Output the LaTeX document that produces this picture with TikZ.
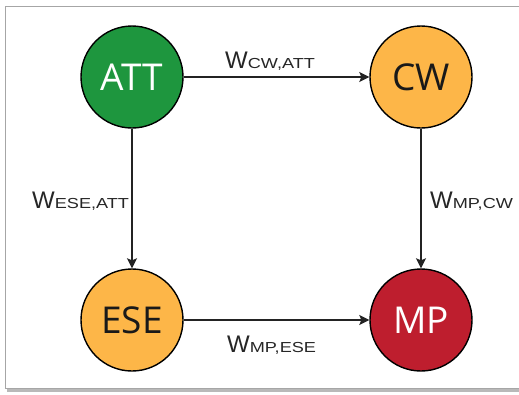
\documentclass[tikz,border=0pt]{standalone}
\usepackage{fontspec}
\setmainfont{Open Sans}
\newfontfamily\lblfont{Liberation Sans}
\usetikzlibrary{arrows.meta}
\definecolor{attgreen}{RGB}{30,150,62}
\definecolor{nodeorange}{RGB}{253,182,72}
\definecolor{mpred}{RGB}{190,30,46}
\definecolor{linegray}{RGB}{35,35,35}
\tikzset{
  statenode/.style={circle, draw=black, line width=1.4pt, minimum size=102pt, inner sep=0pt, font=\fontsize{37}{37}\selectfont},
  conn/.style={draw=linegray, line width=1.3pt, -{Stealth[length=10pt,width=10pt,inset=2pt]}},
  wlabel/.style={font=\lblfont, text=black!85, inner sep=0pt, anchor=base west}
}
\newcommand{\wlab}[1]{{\fontsize{24}{24}\selectfont W}{\fontsize{14.5}{14.5}\selectfont\scalebox{1.25}[1]{#1}}}
\begin{document}
\begin{tikzpicture}[x=1pt,y=-1pt]
\useasboundingbox (0,0) rectangle (519,394);
\fill[white] (0,0) rectangle (519,394);
% frame with shadow
\fill[gray!55] (7,388) rectangle (530,392);
\draw[gray!70, line width=1pt] (5,6) rectangle (530,388);
% nodes
\node[statenode, fill=attgreen, text=white] (att) at (132,77) {ATT};
\node[statenode, fill=nodeorange, text=black!90] (cw) at (421,77) {CW};
\node[statenode, fill=nodeorange, text=black!90] (ese) at (132,320) {ESE};
\node[statenode, fill=mpred, text=white] (mp) at (421,320) {MP};
% connectors
\draw[conn] (att) -- (cw);
\draw[conn] (att) -- (ese);
\draw[conn] (cw) -- (mp);
\draw[conn] (ese) -- (mp);
% labels
\node[wlabel] (lcw) at (225,68) {\wlab{CW,ATT}};
\node[wlabel] (lese) at (32,208) {\wlab{ESE,ATT}};
\node[wlabel] (lmpcw) at (430,208) {\wlab{MP,CW}};
\node[wlabel] (lmpese) at (227,352) {\wlab{MP,ESE}};
\end{tikzpicture}
\end{document}
